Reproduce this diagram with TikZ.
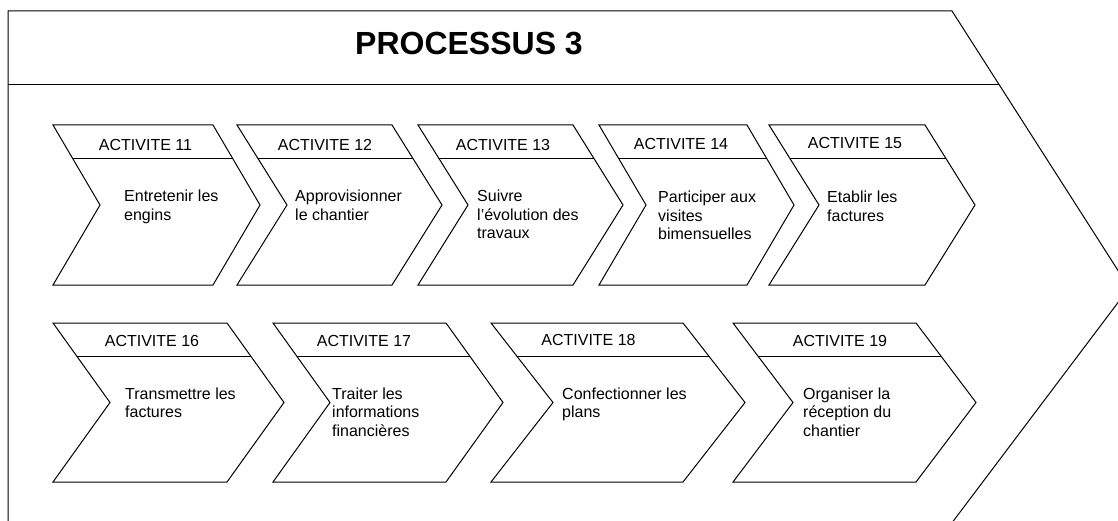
\documentclass[tikz,border=0pt]{standalone}
\usepackage{fontspec}
\setmainfont{Liberation Sans}
\begin{document}
\begin{tikzpicture}[x=1pt,y=-1pt]
\tikzset{
  outerline/.style={draw=black, line width=1pt, line join=miter},
  chev/.style={draw=black, line width=1pt, line join=miter},
  titletext/.style={font=\fontsize{32}{36}\selectfont\bfseries, anchor=base west, inner sep=0pt},
  hdr/.style={font=\fontsize{16}{19}\selectfont, anchor=base, inner sep=0pt},
  body/.style={font=\fontsize{16}{18.5}\selectfont, anchor=base west, align=left, inner sep=0pt},
}
% name, x, y, top width, depth, height, header height
\newcommand{\chevshape}[7]{%
  \draw[chev] (#2,#3) coordinate (#1-tl) -- ++(#4,0) coordinate (#1-tr)
     -- ++(#5,#6/2) coordinate (#1-tip) -- ++(-#5,#6/2) coordinate (#1-br)
     -- ++(-#4,0) coordinate (#1-bl) -- ++(#5,-#6/2) coordinate (#1-notch) -- cycle;
  \draw[chev] (#2+#5*#7*2/#6,#3+#7) coordinate (#1-hl) -- ++(#4,0) coordinate (#1-hr);
}
\useasboundingbox (0,0) rectangle (1118,521);
\fill[white] (0,0) rectangle (1118,521);
% outer process arrow
\begin{scope}
  \clip (0,0) rectangle (1118,521);
  \coordinate (otl) at (8,11);
  \coordinate (otr) at (952,11);
  \coordinate (otip) at (1129.1,287.8);
  \coordinate (obl) at (8,540);
  \coordinate (obr) at (939,540);
  \draw[outerline] (obl) -- (otl) -- (otr) -- (otip) -- (obr);
  \coordinate (ohl) at (8,85);
  \coordinate (ohr) at (999.4,85);
  \draw[outerline] (ohl) -- (ohr);
\end{scope}
\node[titletext] (title) at (355,55) {PROCESSUS 3};
% row 1
\chevshape{c11}{53}{125}{160}{47}{160}{34}
\chevshape{c12}{237}{125}{155}{50}{160}{34}
\chevshape{c13}{418}{125}{155}{50}{160}{34}
\chevshape{c14}{599}{125}{148}{47}{160}{34}
\chevshape{c15}{769}{125}{156}{50}{160}{34}
% row 2
\chevshape{c16}{53}{323}{174}{57}{159}{33}
\chevshape{c17}{273}{323}{173}{57}{159}{33}
\chevshape{c18}{491}{323}{192}{62}{159}{33}
\chevshape{c19}{733}{323}{183}{60}{159}{33}
% headers
\node[hdr] (h11) at (145.5,151) {ACTIVITE 11};
\node[hdr] (h12) at (325,151) {ACTIVITE 12};
\node[hdr] (h13) at (503,151) {ACTIVITE 13};
\node[hdr] (h14) at (681,150) {ACTIVITE 14};
\node[hdr] (h15) at (855,148.5) {ACTIVITE 15};
\node[hdr] (h16) at (152,346) {ACTIVITE 16};
\node[hdr] (h17) at (364,346) {ACTIVITE 17};
\node[hdr] (h18) at (588.5,345) {ACTIVITE 18};
\node[hdr] (h19) at (840,346.5) {ACTIVITE 19};
% bodies (anchor on the baseline of the last line)
\node[body] (b11) at (124,220.5) {Entretenir les\\engins};
\node[body] (b12) at (295,220.5) {Approvisionner\\le chantier};
\node[body] (b13) at (477,239) {Suivre\\l'évolution des\\travaux};
\node[body] (b14) at (658,240) {Participer aux\\visites\\bimensuelles};
\node[body] (b15) at (827,221.5) {Etablir les\\factures};
\node[body] (b16) at (125,417.5) {Transmettre les\\factures};
\node[body] (b17) at (332,436) {Traiter les\\informations\\financières};
\node[body] (b18) at (562,417.5) {Confectionner les\\plans};
\node[body] (b19) at (803,436) {Organiser la\\réception du\\chantier};
\end{tikzpicture}
\end{document}
